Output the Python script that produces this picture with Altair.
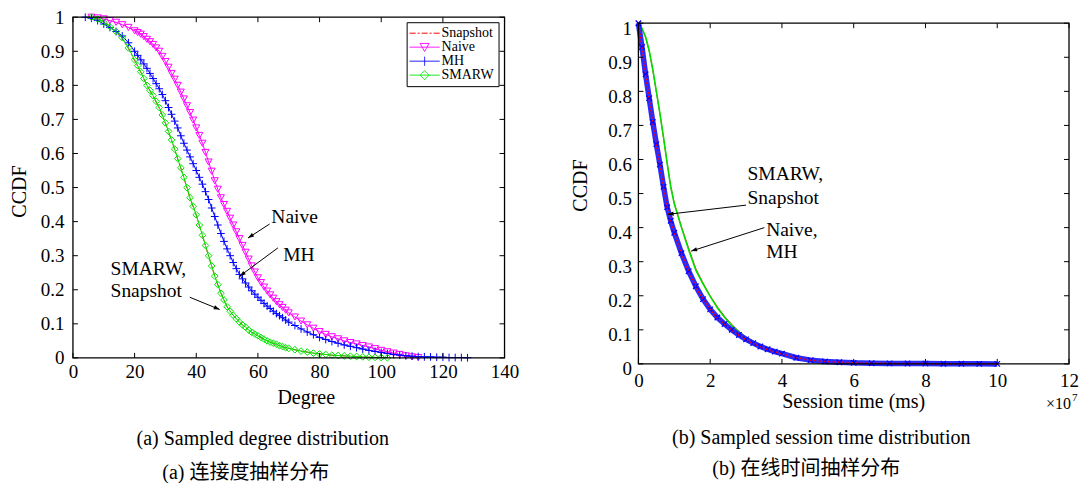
import math
import altair as alt
import pandas as pd

# ---------------- (a) Sampled degree distribution ----------------
deg_naive_x = list(range(6, 20, 2)) + list(range(20, 71)) + list(range(72, 113, 2))
deg_naive_y = [1.0, 0.998, 0.995, 0.99, 0.985, 0.978, 0.97,
               0.96, 0.955, 0.95, 0.943, 0.935, 0.928, 0.92, 0.91, 0.9, 0.885,
               0.87, 0.853, 0.835, 0.818, 0.8, 0.78, 0.76, 0.74, 0.72, 0.698,
               0.675, 0.653, 0.63, 0.603, 0.575, 0.548, 0.52, 0.495, 0.47, 0.45,
               0.43, 0.41, 0.39, 0.37, 0.35, 0.33, 0.31, 0.29, 0.27, 0.252,
               0.235, 0.221, 0.208, 0.196, 0.185, 0.175, 0.165, 0.156, 0.148, 0.14,
               0.132,
               0.12, 0.108, 0.097, 0.087, 0.077, 0.069, 0.062, 0.056, 0.05, 0.045,
               0.041, 0.036, 0.032, 0.027, 0.022, 0.018, 0.014, 0.01, 0.006, 0.003,
               0.001]

deg_mh_x = list(range(4, 20, 2)) + list(range(20, 71)) + list(range(72, 129, 2))
deg_mh_y = [1.0, 0.997, 0.99, 0.98, 0.97, 0.958, 0.945, 0.925,
            0.9, 0.888, 0.875, 0.863, 0.85, 0.835, 0.82, 0.805, 0.79, 0.773,
            0.755, 0.735, 0.715, 0.695, 0.675, 0.652, 0.63, 0.61, 0.59, 0.57,
            0.55, 0.53, 0.51, 0.488, 0.465, 0.44, 0.415, 0.39, 0.365, 0.342,
            0.32, 0.3, 0.28, 0.262, 0.245, 0.232, 0.22, 0.208, 0.197, 0.187,
            0.178, 0.169, 0.16, 0.152, 0.145, 0.137, 0.13, 0.124, 0.118, 0.111,
            0.105,
            0.095, 0.085, 0.076, 0.068, 0.06, 0.054, 0.048, 0.043, 0.038, 0.034,
            0.03, 0.026, 0.022, 0.019, 0.016, 0.013, 0.01, 0.008, 0.006, 0.005,
            0.004, 0.003, 0.003, 0.002, 0.002, 0.001, 0.001, 0.001, 0.0005]

deg_smarw_x = list(range(6, 20, 2)) + list(range(20, 71)) + list(range(72, 103, 2))
deg_smarw_y = [1.0, 0.995, 0.985, 0.972, 0.958, 0.94, 0.91,
               0.875, 0.858, 0.84, 0.82, 0.80, 0.785, 0.77, 0.753, 0.735, 0.713,
               0.69, 0.665, 0.64, 0.613, 0.585, 0.558, 0.53, 0.50, 0.47, 0.445,
               0.42, 0.39, 0.36, 0.33, 0.30, 0.27, 0.24, 0.215, 0.19, 0.17,
               0.15, 0.137, 0.125, 0.115, 0.105, 0.097, 0.09, 0.082, 0.075, 0.07,
               0.065, 0.06, 0.055, 0.05, 0.046, 0.043, 0.04, 0.036, 0.033, 0.03,
               0.028,
               0.024, 0.02, 0.017, 0.014, 0.012, 0.01, 0.008, 0.007, 0.006, 0.005,
               0.004, 0.003, 0.002, 0.0015, 0.001, 0.0005]

deg_snap_x = list(range(6, 20, 2)) + list(range(20, 71)) + list(range(72, 103, 2))
deg_snap_y = [1.0, 0.995, 0.986, 0.973, 0.958, 0.938, 0.908,
              0.873, 0.856, 0.838, 0.819, 0.799, 0.784, 0.768, 0.751, 0.733, 0.711,
              0.688, 0.663, 0.638, 0.611, 0.583, 0.556, 0.528, 0.498, 0.469, 0.444,
              0.419, 0.389, 0.359, 0.329, 0.299, 0.269, 0.24, 0.214, 0.19, 0.17,
              0.15, 0.137, 0.125, 0.115, 0.105, 0.097, 0.089, 0.082, 0.075, 0.07,
              0.064, 0.059, 0.055, 0.05, 0.046, 0.042, 0.039, 0.036, 0.033, 0.03,
              0.028,
              0.024, 0.02, 0.017, 0.014, 0.012, 0.01, 0.008, 0.007, 0.006, 0.005,
              0.004, 0.003, 0.002, 0.0015, 0.001, 0.0005]

# ---------------- (b) Sampled session time distribution (x in 1e7 ms) ----------------
ses_x = [0, 0.1, 0.2, 0.3, 0.4, 0.5, 0.6, 0.7, 0.8, 0.9, 1.0,
         1.2, 1.4, 1.6, 1.8, 2.0, 2.2, 2.4, 2.6, 2.8, 3.0, 3.2, 3.4, 3.6, 3.8, 4.0,
         4.4, 4.8, 5.2, 5.6, 6.0,
         6.5, 7.0, 7.5, 8.0, 8.5, 9.0, 9.5, 10.0]
ses_naive_y = [1.0, 0.983, 0.958, 0.918, 0.862, 0.798, 0.733, 0.663, 0.59, 0.522, 0.472,
               0.403, 0.34, 0.28, 0.238, 0.2, 0.168, 0.14, 0.116, 0.096, 0.079, 0.066, 0.055, 0.046, 0.038, 0.031,
               0.02, 0.013, 0.009, 0.006, 0.004,
               0.003, 0.002, 0.0015, 0.001, 0.0007, 0.0005, 0.0003, 0.0]
ses_mh_y = [1.0, 0.985, 0.96, 0.92, 0.865, 0.8, 0.735, 0.665, 0.59, 0.52, 0.47,
            0.40, 0.335, 0.275, 0.235, 0.198, 0.165, 0.137, 0.113, 0.094, 0.078, 0.065, 0.054, 0.045, 0.038, 0.031,
            0.02, 0.013, 0.009, 0.006, 0.004,
            0.003, 0.002, 0.0015, 0.001, 0.0007, 0.0005, 0.0003, 0.0]
ses_smarw_y = [1.0, 0.93, 0.85, 0.78, 0.71, 0.645, 0.585, 0.52, 0.46, 0.42, 0.385,
               0.325, 0.272, 0.228, 0.19, 0.16, 0.136, 0.117, 0.1, 0.085, 0.072, 0.061, 0.051, 0.043, 0.036, 0.03,
               0.018, 0.011, 0.007, 0.005, 0.003,
               0.002, 0.0015, 0.001, 0.0008, 0.0006, 0.0004, 0.0002, 0.0]
ses_snap_y = [1.0, 0.928, 0.848, 0.778, 0.708, 0.643, 0.583, 0.519, 0.459, 0.419, 0.384,
              0.324, 0.271, 0.227, 0.189, 0.159, 0.135, 0.116, 0.099, 0.084, 0.071, 0.06, 0.05, 0.042, 0.035, 0.029,
              0.018, 0.011, 0.007, 0.005, 0.003,
              0.002, 0.0015, 0.001, 0.0008, 0.0006, 0.0004, 0.0002, 0.0]

# ---------------- ticks ----------------
deg_ticks = [0, 20, 40, 60, 80, 100, 120, 140]
ses_ticks = [0, 2, 4, 6, 8, 10, 12]
ccdf_ticks = [0, 0.1, 0.2, 0.3, 0.4, 0.5, 0.6, 0.7, 0.8, 0.9, 1]

# ---------------- legends ----------------
leg1_names = ["Snapshot", "Naive", "MH", "SMARW"]
leg1_colors = ["#ff0000", "#ff00ff", "#0000ff", "#00e600"]
leg2_names = ["Naive", "MH", "SMARW", "Snapshot"]
leg2_colors = ["#ff3030", "#00dd00", "#1010ff", "#ff0000"]

# ---------------- annotations ----------------
ann1_c_text = ["Naive", "MH"]
ann1_c_x = [71.9, 73.3]
ann1_c_y = [0.414, 0.303]
ann1_l_text = ["SMARW,", "Snapshot"]
ann1_l_x = [12.2, 12.2]
ann1_l_y = [0.262, 0.196]
arr1_x1 = [63.8, 66.5, 37.9]
arr1_y1 = [0.393, 0.323, 0.178]
arr1_x2 = [56.8, 54.1, 47.6]
arr1_y2 = [0.352, 0.24, 0.142]

ann2_l_text = ["SMARW,", "Snapshot", "Naive,", "MH"]
ann2_l_x = [3.04, 3.04, 3.56, 3.56]
ann2_l_y = [0.556, 0.488, 0.392, 0.329]
arr2_x1 = [3.0, 3.51]
arr2_y1 = [0.466, 0.4]
arr2_x2 = [0.816, 1.47]
arr2_y2 = [0.439, 0.331]

cap1 = ["(a) Sampled degree distribution", "(a)  连接度抽样分布"]
cap2 = ["(b) Sampled session time distribution", "(b)  在线时间抽样分布"]

for a, b in [(deg_naive_x, deg_naive_y), (deg_mh_x, deg_mh_y), (deg_smarw_x, deg_smarw_y),
             (deg_snap_x, deg_snap_y), (ses_x, ses_naive_y), (ses_x, ses_mh_y),
             (ses_x, ses_smarw_y), (ses_x, ses_snap_y)]:
    assert len(a) == len(b), (len(a), len(b))

# ---------------- layout constants ----------------
W1, H1 = 432, 341
W2, H2 = 431, 347
SERIF = "'Liberation Serif', 'Times New Roman', Times, serif"
CJK = "'Liberation Serif', 'Times New Roman', 'Noto Sans CJK SC', serif"
HEAD = "M0,0L0.6,1.7L-0.6,1.7Z"
PLUS = "M-1,0H1M0,-1V1"
XMARK = "M-1,-1L1,1M-1,1L1,-1"


def X(f, s, a):
    return alt.X(f, type="quantitative", scale=s, axis=a)


def Y(f, s, a):
    return alt.Y(f, type="quantitative", scale=s, axis=a)


def XD(v, s, a):
    return alt.XDatum(v, type="quantitative", scale=s, axis=a)


def YD(v, s, a):
    return alt.YDatum(v, type="quantitative", scale=s, axis=a)


def series_df(xv, yv):
    return pd.DataFrame({"x": xv, "y": yv})


def frame_and_ticks(xs, ys, ax, ay, xmax, xticks, yticks):
    one = pd.DataFrame({"a": [0]})
    dfx = pd.DataFrame({"v": xticks})
    dfy = pd.DataFrame({"v": yticks})
    frame = alt.Chart(one).mark_rect(filled=False, color="black", strokeWidth=1.3).encode(
        x=XD(0, xs, ax), x2=alt.X2Datum(xmax), y=YD(1, ys, ay), y2=alt.Y2Datum(0))
    top = alt.Chart(dfx).mark_rule(color="black", strokeWidth=1, y2Offset=5).encode(
        x=X("v", xs, ax), y=YD(1, ys, ay), y2=alt.Y2Datum(1))
    bot = alt.Chart(dfx).mark_rule(color="black", strokeWidth=1, y2Offset=-5).encode(
        x=X("v", xs, ax), y=YD(0, ys, ay), y2=alt.Y2Datum(0))
    lft = alt.Chart(dfy).mark_rule(color="black", strokeWidth=1, x2Offset=5).encode(
        y=Y("v", ys, ay), x=XD(0, xs, ax), x2=alt.X2Datum(0))
    rgt = alt.Chart(dfy).mark_rule(color="black", strokeWidth=1, x2Offset=-5).encode(
        y=Y("v", ys, ay), x=XD(xmax, xs, ax), x2=alt.X2Datum(xmax))
    return [top, bot, lft, rgt, frame]


def arrows(x1, y1, x2, y2, sx, sy, xs, ys, ax, ay):
    ang = []
    for a, b, c, d in zip(x1, y1, x2, y2):
        dx = (c - a) * sx
        dy = -(d - b) * sy
        ang.append(math.degrees(math.atan2(dx, -dy)) % 360)
    df = pd.DataFrame({"x1": x1, "y1": y1, "x2": x2, "y2": y2, "ang": ang})
    rule = alt.Chart(df).mark_rule(color="black", strokeWidth=1).encode(
        x=X("x1", xs, ax), y=Y("y1", ys, ay), x2=alt.X2("x2"), y2=alt.Y2("y2"))
    head = alt.Chart(df).mark_point(shape=HEAD, filled=True, color="black", size=49, opacity=1).encode(
        x=X("x2", xs, ax), y=Y("y2", ys, ay), angle=alt.Angle("ang:Q", scale=None))
    return [rule, head]


def texts(tx, xv, yv, align, xs, ys, ax, ay):
    df = pd.DataFrame({"t": tx, "x": xv, "y": yv})
    return alt.Chart(df).mark_text(font=SERIF, fontSize=19.5, align=align, baseline="middle",
                                   color="black").encode(
        x=X("x", xs, ax), y=Y("y", ys, ay), text="t:N")


def caption(lines, xs_px, ys_px):
    out = []
    for i, (line, xp, yp) in enumerate(zip(lines, xs_px, ys_px)):
        df = pd.DataFrame({"t": [line]})
        out.append(alt.Chart(df).mark_text(font=CJK if i == 1 else SERIF, fontSize=20,
                                           align="center", baseline="middle", color="black").encode(
            text="t:N", x=alt.value(xp), y=alt.value(yp)))
    return out


# ================= panel (a) =================
xs1 = alt.Scale(domain=[0, 140], nice=False, zero=False)
ys1 = alt.Scale(domain=[0, 1], nice=False, zero=False)
ax1x = alt.Axis(values=deg_ticks, title="Degree", labelPadding=5, labelFlush=False, titleX=233,
                titleY=40, titleBaseline="middle")
ax1y = alt.Axis(values=ccdf_ticks, format="~g", title="CCDF", labelPadding=9, titleX=-53,
                titleY=174, titleBaseline="middle")

L1 = []
L1.append(alt.Chart(series_df(deg_snap_x, deg_snap_y)).mark_line(color=leg1_colors[0], strokeWidth=1,
          strokeDash=[6, 2, 2, 2]).encode(x=X("x", xs1, ax1x), y=Y("y", ys1, ax1y)))
d_naive = series_df(deg_naive_x, deg_naive_y)
L1.append(alt.Chart(d_naive).mark_line(color=leg1_colors[1], strokeWidth=1).encode(
    x=X("x", xs1, ax1x), y=Y("y", ys1, ax1y)))
L1.append(alt.Chart(d_naive).mark_point(shape="triangle-down", filled=False, color=leg1_colors[1], size=50,
          strokeWidth=1, opacity=1).encode(x=X("x", xs1, ax1x), y=Y("y", ys1, ax1y)))
d_mh = series_df(deg_mh_x, deg_mh_y)
L1.append(alt.Chart(d_mh).mark_line(color=leg1_colors[2], strokeWidth=1).encode(
    x=X("x", xs1, ax1x), y=Y("y", ys1, ax1y)))
L1.append(alt.Chart(d_mh).mark_point(shape=PLUS, filled=False, color=leg1_colors[2], size=60,
          strokeWidth=1, opacity=1).encode(x=X("x", xs1, ax1x), y=Y("y", ys1, ax1y)))
d_sm = series_df(deg_smarw_x, deg_smarw_y)
L1.append(alt.Chart(d_sm).mark_line(color=leg1_colors[3], strokeWidth=1).encode(
    x=X("x", xs1, ax1x), y=Y("y", ys1, ax1y)))
L1.append(alt.Chart(d_sm).mark_point(shape="diamond", filled=False, color=leg1_colors[3], size=45,
          strokeWidth=1, opacity=1).encode(x=X("x", xs1, ax1x), y=Y("y", ys1, ax1y)))

leg1 = alt.Legend(title=None, orient="none", legendX=334, legendY=5, padding=4,
                  strokeColor="black", fillColor="white", labelFont=SERIF, labelFontSize=14,
                  labelColor="black", symbolSize=100, symbolOffset=7, labelOffset=10,
                  rowPadding=-3.5, symbolOpacity=1, symbolStrokeWidth=1)
leg1_df = pd.DataFrame({"series": leg1_names,
                        "x": [deg_snap_x[0], deg_naive_x[0], deg_mh_x[0], deg_smarw_x[0]],
                        "y": [deg_snap_y[0], deg_naive_y[0], deg_mh_y[0], deg_smarw_y[0]]})
leg1_paths = ["M-3,0H3",
              "M-3,0H3M-0.9,-0.75H0.9L0,0.85Z",
              "M-3,0H3M0,-0.9V0.9",
              "M-3,0H3M-0.9,0L0,-0.9L0.9,0L0,0.9Z"]
L1.append(alt.Chart(leg1_df).mark_point(opacity=0, filled=False, strokeWidth=1).encode(
    x=X("x", xs1, ax1x), y=Y("y", ys1, ax1y),
    color=alt.Color("series:N", scale=alt.Scale(domain=leg1_names, range=leg1_colors), legend=leg1),
    shape=alt.Shape("series:N", scale=alt.Scale(domain=leg1_names, range=leg1_paths), legend=leg1),
    strokeDash=alt.StrokeDash("series:N", scale=alt.Scale(domain=leg1_names,
                              range=[[6, 2, 2, 2], [1, 0], [1, 0], [1, 0]]), legend=leg1)))

L1.append(texts(ann1_c_text, ann1_c_x, ann1_c_y, "center", xs1, ys1, ax1x, ax1y))
L1.append(texts(ann1_l_text, ann1_l_x, ann1_l_y, "left", xs1, ys1, ax1x, ax1y))
L1 += arrows(arr1_x1, arr1_y1, arr1_x2, arr1_y2, W1 / 140, H1, xs1, ys1, ax1x, ax1y)
L1 += frame_and_ticks(xs1, ys1, ax1x, ax1y, 140, deg_ticks, ccdf_ticks)
L1 += caption(cap1, [190, 173], [422, 456])

panel1 = alt.layer(*L1).properties(width=W1, height=H1)

# ================= panel (b) =================
xs2 = alt.Scale(domain=[0, 12], nice=False, zero=False)
ys2 = alt.Scale(domain=[0, 1], range=[H2, 6], nice=False, zero=False)
ax2x = alt.Axis(values=ses_ticks, title="Session time (ms)", labelPadding=8, labelFlush=False,
                titleX=215, titleY=38, titleBaseline="middle")
ax2y = alt.Axis(values=ccdf_ticks, format="~g", title="CCDF", labelPadding=7, labelOffset=5,
                titleX=-58, titleY=168, titleBaseline="middle")

L2 = []
L2.append(alt.Chart(series_df(ses_x, ses_naive_y)).mark_line(color=leg2_colors[0], strokeWidth=1).encode(
    x=X("x", xs2, ax2x), y=Y("y", ys2, ax2y)))
L2.append(alt.Chart(series_df(ses_x, ses_mh_y)).mark_line(color=leg2_colors[1], strokeWidth=1.6).encode(
    x=X("x", xs2, ax2x), y=Y("y", ys2, ax2y)))
d_sm2 = series_df(ses_x, ses_smarw_y)
L2.append(alt.Chart(d_sm2).mark_line(color="#2a2aff", strokeWidth=5.5).encode(
    x=X("x", xs2, ax2x), y=Y("y", ys2, ax2y)))
L2.append(alt.Chart(d_sm2).mark_point(shape=XMARK, filled=False, color="#0000ff", size=30,
          strokeWidth=1.3, opacity=1).encode(x=X("x", xs2, ax2x), y=Y("y", ys2, ax2y)))
L2.append(alt.Chart(series_df(ses_x, ses_snap_y)).mark_line(color=leg2_colors[3], strokeWidth=1.5,
          strokeDash=[1.5, 2]).encode(x=X("x", xs2, ax2x), y=Y("y", ys2, ax2y)))

leg2 = alt.Legend(title=None, orient="none", legendX=338, legendY=13, padding=3,
                  strokeColor="black", fillColor="white", labelFont=SERIF, labelFontSize=13,
                  labelColor="black", symbolSize=81, symbolOffset=5, labelOffset=16,
                  rowPadding=-2.5, symbolOpacity=1, symbolStrokeWidth=1.3)
leg2_df = pd.DataFrame({"series": leg2_names, "x": [ses_x[0]] * 4,
                        "y": [ses_naive_y[0], ses_mh_y[0], ses_smarw_y[0], ses_snap_y[0]]})
leg2_paths = ["M-2.45,0H2.45", "M-2.45,0H2.45",
              "M-2.45,0H2.45M-0.55,-0.55L0.55,0.55M-0.55,0.55L0.55,-0.55",
              "M-2.45,0H2.45"]
L2.append(alt.Chart(leg2_df).mark_point(opacity=0, filled=False, strokeWidth=1.3).encode(
    x=X("x", xs2, ax2x), y=Y("y", ys2, ax2y),
    color=alt.Color("series:N", scale=alt.Scale(domain=leg2_names, range=leg2_colors), legend=leg2),
    shape=alt.Shape("series:N", scale=alt.Scale(domain=leg2_names, range=leg2_paths), legend=leg2),
    strokeDash=alt.StrokeDash("series:N", scale=alt.Scale(domain=leg2_names,
                              range=[[1, 0], [1, 0], [5, 2, 1, 2], [1.5, 1.5]]), legend=leg2)))

L2.append(texts(ann2_l_text, ann2_l_x, ann2_l_y, "left", xs2, ys2, ax2x, ax2y))
L2 += arrows(arr2_x1, arr2_y1, arr2_x2, arr2_y2, W2 / 12, H2 - 6, xs2, ys2, ax2x, ax2y)
L2 += frame_and_ticks(xs2, ys2, ax2x, ax2y, 12, ses_ticks, ccdf_ticks)
L2 += caption(cap2, [183, 168], [421, 452])
exp_df = pd.DataFrame({"t": ["×10"]})
L2.append(alt.Chart(exp_df).mark_text(font=SERIF, fontSize=16, align="left", baseline="middle",
                                      color="black").encode(text="t:N", x=alt.value(408), y=alt.value(387)))
exp7_df = pd.DataFrame({"t": ["7"]})
L2.append(alt.Chart(exp7_df).mark_text(font=SERIF, fontSize=11, align="left", baseline="middle",
                                       color="black").encode(text="t:N", x=alt.value(434), y=alt.value(381)))

panel2 = alt.layer(*L2).properties(width=W2, height=H2)

chart = alt.hconcat(panel1, panel2, spacing=134, bounds="flush").properties(
    padding={"left": 2, "top": 0, "right": 0, "bottom": 0}, background="white"
).configure_view(strokeWidth=0).configure_axis(
    labelFont=SERIF, labelFontSize=19, labelColor="black", titleFont=SERIF, titleFontSize=20,
    titleFontWeight="normal", titleColor="black", ticks=False, domain=False, grid=False)

chart.save("out.html", embed_options={"renderer": "svg", "actions": False})
